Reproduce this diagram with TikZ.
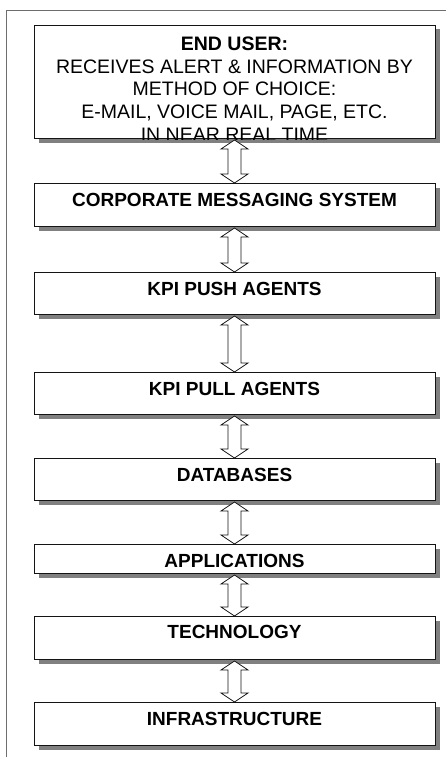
\documentclass[tikz,border=0pt]{standalone}
\usepackage{fontspec}
\setmainfont{Liberation Sans}
\usetikzlibrary{calc,shadows}
\definecolor{ink}{HTML}{141414}
\definecolor{framegray}{HTML}{6E6E6E}
\definecolor{shadegray}{HTML}{808080}
\tikzset{
  layerbox/.style={draw=ink,fill=white,line width=1pt,inner sep=0pt,
                   minimum width=401pt,text height=23pt,
                   font=\fontsize{19}{22}\selectfont\bfseries,
                   drop shadow={shadow xshift=5pt,shadow yshift=-4pt,
                                fill=shadegray,opacity=1}},
  usertext/.style={anchor=north,align=center,inner sep=0pt,
                   font=\fontsize{19.5}{22.7}\selectfont},
  updown/.style={draw=ink,fill=white,line width=0.8pt,line join=miter},
  frameline/.style={draw=framegray,line width=1.3pt}
}
% hollow two-headed arrow between two stacked boxes
\newcommand{\linkarrow}[2]{%
  \draw[updown] ($(#1.south)+(0,1)$) -- ++(13.5,9) -- ++(-7,0)
    -- ($(#2.north)+(6.5,-9)$) -- ++(7,0) -- (#2.north) -- ++(-13.5,-9)
    -- ++(7,0) -- ($(#1.south)+(-6.5,10)$) -- ++(-7,0) -- cycle;}

\begin{document}
\begin{tikzpicture}[x=1pt,y=-1pt]
  \useasboundingbox (0,0) rectangle (446,757);
  \draw[frameline] (446,10.5) -- (6.5,10.5) -- (6.5,757);

  \node[layerbox,anchor=north,minimum height=113pt,text height=0pt] (enduser) at (234.5,25) {};
  \begin{scope}
    \clip (enduser.north west) rectangle (enduser.south east);
    \node[usertext] (usertxt) at ($(enduser.north)+(0,11.5)$)
      {\textbf{END USER:}\\RECEIVES ALERT \& INFORMATION BY\\
       METHOD OF CHOICE:\\E-MAIL, VOICE MAIL, PAGE, ETC.\\
       IN NEAR REAL TIME};
  \end{scope}
  \node[layerbox,anchor=north,text depth=20pt] (cms)   at (234.5,183) {CORPORATE MESSAGING SYSTEM};
  \node[layerbox,anchor=north,text depth=19pt] (push)  at (234.5,272) {KPI PUSH AGENTS};
  \node[layerbox,anchor=north,text depth=19pt] (pull)  at (234.5,372) {KPI PULL AGENTS};
  \node[layerbox,anchor=north,text depth=19pt] (db)    at (234.5,458) {DATABASES};
  \node[layerbox,anchor=north,text depth=6pt]  (apps)  at (234.5,544) {APPLICATIONS};
  \node[layerbox,anchor=north,text depth=21pt,text height=22pt] (tech) at (234.5,616) {TECHNOLOGY};
  \node[layerbox,anchor=north,text depth=20pt] (infra) at (234.5,702) {INFRASTRUCTURE};

  \linkarrow{enduser}{cms}
  \linkarrow{cms}{push}
  \linkarrow{push}{pull}
  \linkarrow{pull}{db}
  \linkarrow{db}{apps}
  \linkarrow{apps}{tech}
  \linkarrow{tech}{infra}
\end{tikzpicture}
\end{document}
